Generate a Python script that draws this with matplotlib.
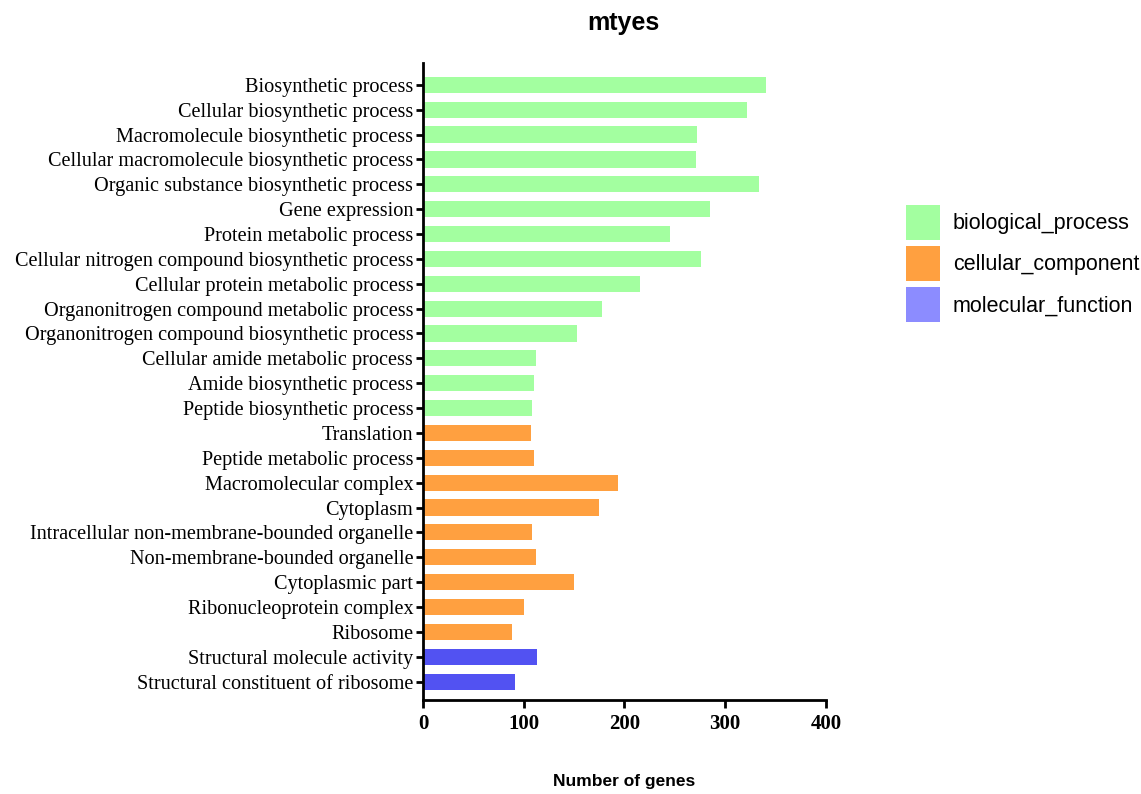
import matplotlib
matplotlib.use("Agg")
import matplotlib.pyplot as plt
from matplotlib.patches import Patch

categories = [
    "Biosynthetic process",
    "Cellular biosynthetic process",
    "Macromolecule biosynthetic process",
    "Cellular macromolecule biosynthetic process",
    "Organic substance biosynthetic process",
    "Gene expression",
    "Protein metabolic process",
    "Cellular nitrogen compound biosynthetic process",
    "Cellular protein metabolic process",
    "Organonitrogen compound metabolic process",
    "Organonitrogen compound biosynthetic process",
    "Cellular amide metabolic process",
    "Amide biosynthetic process",
    "Peptide biosynthetic process",
    "Translation",
    "Peptide metabolic process",
    "Macromolecular complex",
    "Cytoplasm",
    "Intracellular non-membrane-bounded organelle",
    "Non-membrane-bounded organelle",
    "Cytoplasmic part",
    "Ribonucleoprotein complex",
    "Ribosome",
    "Structural molecule activity",
    "Structural constituent of ribosome",
]
values = [340, 322, 272, 271, 334, 285, 245, 276, 215, 178, 153, 112, 110, 108,
          107, 110, 194, 175, 108, 112, 150, 100, 88, 113, 91]
groups = (["biological_process"] * 14 + ["cellular_component"] * 9 +
          ["molecular_function"] * 2)
legend_labels = ["biological_process", "cellular_component", "molecular_function"]
xticks = [0, 100, 200, 300, 400]

bar_colors = {"biological_process": "#A3FFA0",
              "cellular_component": "#FFA040",
              "molecular_function": "#5252F2"}
legend_colors = {"biological_process": "#A3FFA0",
                 "cellular_component": "#FFA040",
                 "molecular_function": "#8C8CFF"}

fig = plt.figure(figsize=(11.41, 7.94), dpi=100)
ax = fig.add_axes([0.3707, 0.1184, 0.3532, 0.8023])

ypos = list(range(len(categories)))
ax.barh(ypos, values, height=0.65, color=[bar_colors[g] for g in groups],
        edgecolor="none")
ax.set_ylim(len(categories) - 1 + 0.74, -0.88)
ax.set_xlim(0, 400)
ax.set_yticks(ypos)
ax.set_yticklabels(categories, fontfamily="Liberation Serif", fontsize=14.6)
ax.set_xticks(xticks)
ax.set_xticklabels([str(t) for t in xticks], fontfamily="Liberation Serif",
                   fontsize=15, fontweight="bold")

for s in ["top", "right"]:
    ax.spines[s].set_visible(False)
for s in ["left", "bottom"]:
    ax.spines[s].set_linewidth(2)
ax.tick_params(axis="y", length=5, width=2, pad=2)
ax.tick_params(axis="x", length=6, width=2, pad=4)

ax.set_xlabel("Number of genes", fontfamily="Liberation Sans", fontsize=12.5,
              fontweight="bold", labelpad=29)
fig.text(0.5465, 0.971, "mtyes", ha="center", va="center",
         fontfamily="Liberation Sans", fontsize=18, fontweight="bold")

handles = [Patch(facecolor=legend_colors[g], edgecolor="none") for g in legend_labels]
fig.legend(handles, legend_labels, loc="upper left", bbox_to_anchor=(0.794, 0.742),
           frameon=False, prop={"family": "Liberation Sans", "size": 15.5},
           handlelength=1.58, handleheight=2.13, labelspacing=0.28, handletextpad=0.6,
           borderaxespad=0, borderpad=0)

fig.savefig("out.png", dpi=100)
